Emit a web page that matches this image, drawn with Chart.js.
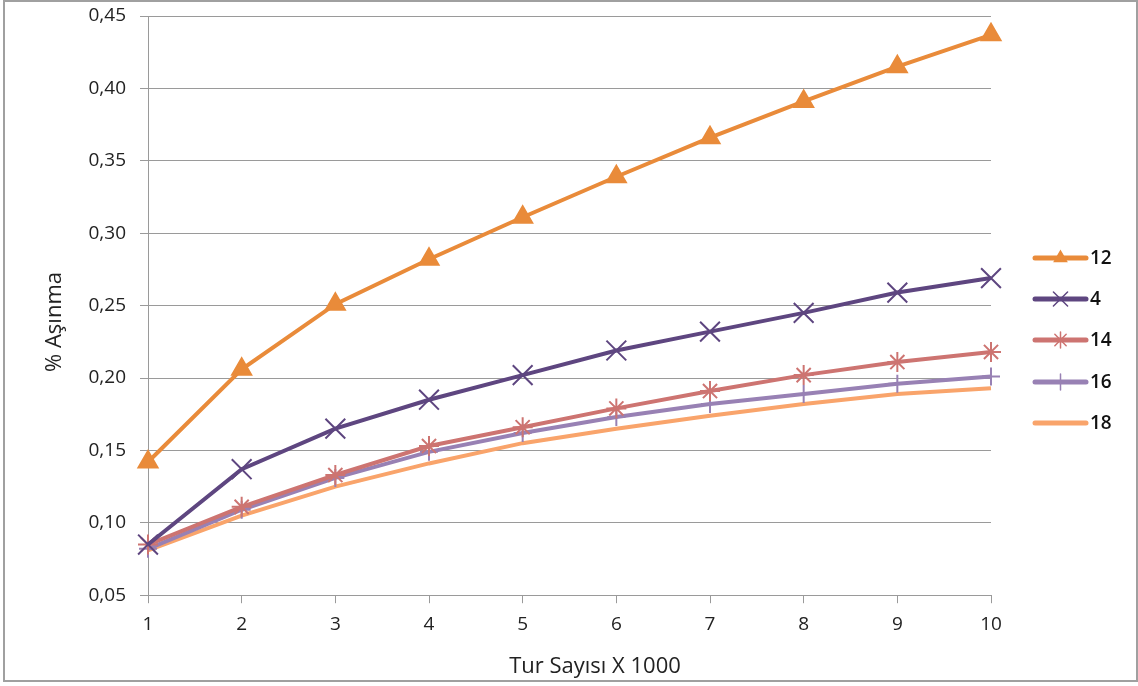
<!DOCTYPE html>
<html>
<head>
<meta charset="utf-8">
<script src="https://cdn.jsdelivr.net/npm/chart.js@4/dist/chart.umd.min.js"></script>
<style>
  html, body { margin: 0; padding: 0; background: #fff; }
  #wrap { position: relative; width: 1138px; height: 686px; }
  #frame { position: absolute; left: 3px; top: 0px; width: 1131px; height: 678px; border: 2px solid #a0a0a0; box-sizing: content-box; pointer-events: none; }
  canvas { display: block; }
</style>
</head>
<body>
<div id="wrap">
  <canvas id="c" width="1138" height="686"></canvas>
  <div id="frame"></div>
</div>
<script>
// Tur sayısı (x 1000)
const categories = [1, 2, 3, 4, 5, 6, 7, 8, 9, 10];

// % aşınma values per series
const series12 = [0.142, 0.206, 0.251, 0.282, 0.311, 0.339, 0.366, 0.391, 0.415, 0.437];
const series4  = [0.085, 0.137, 0.165, 0.185, 0.202, 0.219, 0.232, 0.245, 0.259, 0.269];
const series14 = [0.085, 0.111, 0.133, 0.153, 0.166, 0.179, 0.191, 0.202, 0.211, 0.218];
const series16 = [0.082, 0.109, 0.131, 0.149, 0.162, 0.173, 0.182, 0.189, 0.196, 0.201];
const series18 = [0.081, 0.105, 0.125, 0.141, 0.155, 0.165, 0.174, 0.182, 0.189, 0.193];

const seriesLabels = ['12', '4', '14', '16', '18'];
const yTicks = [0.05, 0.10, 0.15, 0.20, 0.25, 0.30, 0.35, 0.40, 0.45];
const xTitle = 'Tur Sayısı X 1000';
const yTitle = '% Aşınma';

const FONT = '"Open Sans", "DejaVu Sans", sans-serif';

function ds(label, data, color, pointStyle, radius, legendRadius) {
  return {
    label, data,
    borderColor: color,
    backgroundColor: color,
    pointBorderColor: color,
    pointBackgroundColor: color,
    borderWidth: 4,
    pointStyle,
    pointRadius: radius,
    pointBorderWidth: 2,
    legendRadius,
    tension: 0,
    fill: false
  };
}

// Axis titles and the legend to the right of the plot
const decorations = {
  id: 'decorations',
  afterDraw(chart) {
    const ctx = chart.ctx;
    ctx.save();
    ctx.fillStyle = '#222';
    ctx.font = '22px ' + FONT;
    ctx.textAlign = 'center';
    ctx.textBaseline = 'middle';
    ctx.fillText(xTitle, 595, 667);
    ctx.translate(55, 322);
    ctx.rotate(-Math.PI / 2);
    ctx.fillText(yTitle, 0, 0);
    ctx.restore();

    const x0 = 1035, x1 = 1086, ys = [258, 299, 340, 382, 423];
    chart.data.datasets.forEach((d, i) => {
      const y = ys[i];
      ctx.save();
      ctx.strokeStyle = d.borderColor;
      ctx.lineWidth = 5;
      ctx.lineCap = 'round';
      ctx.beginPath(); ctx.moveTo(x0, y); ctx.lineTo(x1, y); ctx.stroke();
      if (d.pointStyle && d.legendRadius > 0) {
        ctx.fillStyle = d.pointBackgroundColor;
        ctx.strokeStyle = d.pointBorderColor;
        ctx.lineWidth = 1.5;
        Chart.helpers.drawPoint(ctx, {
          pointStyle: d.pointStyle,
          radius: d.legendRadius,
          rotation: 0,
          borderWidth: 1.5
        }, (x0 + x1) / 2, y);
      }
      ctx.fillStyle = '#111';
      ctx.font = '600 19px ' + FONT;
      ctx.textAlign = 'left';
      ctx.textBaseline = 'middle';
      ctx.fillText(d.label, x1 + 4, y + 1);
      ctx.restore();
    });
  }
};

new Chart(document.getElementById('c'), {
  type: 'line',
  data: {
    labels: categories,
    datasets: [
      ds(seriesLabels[0], series12, '#E98B3A', 'triangle', 11, 7),
      ds(seriesLabels[1], series4,  '#5E4680', 'crossRot', 14, 10),
      ds(seriesLabels[2], series14, '#CD7471', 'star', 10, 8),
      ds(seriesLabels[3], series16, '#9881B4', 'cross', 9, 8),
      ds(seriesLabels[4], series18, '#F9A46B', 'line', 0, 0)
    ]
  },
  options: {
    responsive: false,
    animation: false,
    layout: { padding: { left: 0, right: 147, top: 15, bottom: 40 } },
    plugins: {
      legend: { display: false },
      tooltip: { enabled: false }
    },
    scales: {
      x: {
        type: 'category',
        offset: false,
        grid: { display: true, drawOnChartArea: false, drawTicks: true, tickLength: 8, color: '#9a9a9a', lineWidth: 1 },
        border: { display: true, color: '#9a9a9a', width: 1 },
        ticks: { color: '#222', font: { family: FONT, size: 19 }, padding: 10, maxRotation: 0, autoSkip: false }
      },
      y: {
        min: 0.05,
        max: 0.45,
        afterBuildTicks(axis) { axis.ticks = yTicks.map(v => ({ value: v })); },
        afterFit(axis) { axis.width = 148; axis.paddingTop = 0; axis.paddingBottom = 0; },
        grid: { display: true, drawTicks: true, tickLength: 8, color: '#9a9a9a', lineWidth: 1 },
        border: { display: true, color: '#9a9a9a', width: 1 },
        ticks: {
          color: '#222',
          font: { family: FONT, size: 19 },
          padding: 14,
          callback: v => v.toFixed(2).replace('.', ',')
        }
      }
    }
  },
  plugins: [decorations]
});
</script>
</body>
</html>
